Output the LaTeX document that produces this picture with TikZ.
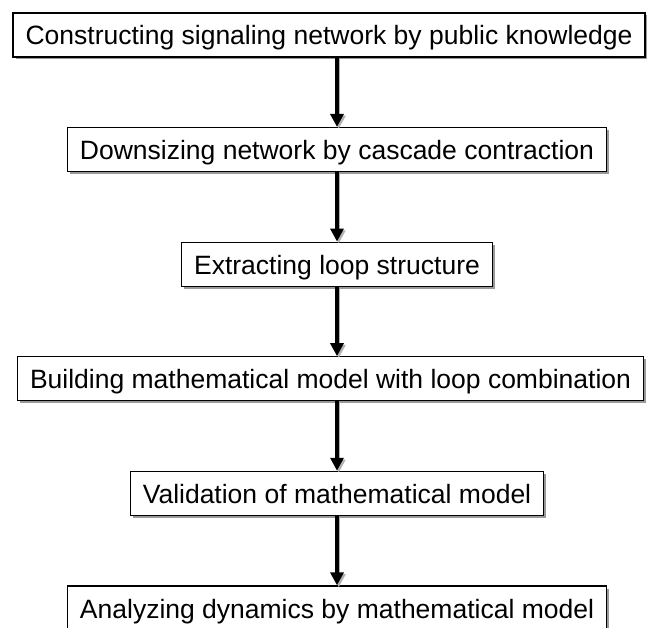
\documentclass[tikz,border=0pt]{standalone}
\usepackage{fontspec}
\setmainfont{Liberation Sans}
\usetikzlibrary{arrows.meta}
\usetikzlibrary{shadows}

\begin{document}
\begin{tikzpicture}[x=1pt,y=-1pt,
    stepbox/.style={draw,line width=1.3pt,fill=white,inner xsep=12.5pt,
      minimum height=44pt,text height=20pt,text depth=0pt,
      font=\fontsize{26.5}{30}\selectfont,
      drop shadow={shadow xshift=2.5pt,shadow yshift=-2.5pt,opacity=0.4,fill=black}},
    flow/.style={line width=3.4pt,-{Triangle[width=13pt,length=13pt]},
      preaction={draw=black!30,transform canvas={shift={(1.8pt,-1.8pt)}}}}]
  \useasboundingbox (0,0) rectangle (647,628);
      \node[stepbox] (S1) at (329,35) {Constructing signaling network by public knowledge};
      \node[stepbox] (S2) at (337,149.6) {Downsizing network by cascade contraction};
      \node[stepbox] (S3) at (337,264.2) {Extracting loop structure};
      \node[stepbox] (S4) at (330.5,378.8) {Building mathematical model with loop combination};
      \node[stepbox] (S5) at (337,493.4) {Validation of mathematical model};
      \node[stepbox] (S6) at (337,608) {Analyzing dynamics by mathematical model};
      % arrows at x of the lower box
      \draw[flow] (S1.south -| S2.north) -- (S2.north);
      \draw[flow] (S2.south) -- (S3.north);
      \draw[flow] (S3.south) -- (S4.north -| S3.south);
      \draw[flow] (S4.south -| S5.north) -- (S5.north);
      \draw[flow] (S5.south) -- (S6.north);
\end{tikzpicture}
\end{document}
